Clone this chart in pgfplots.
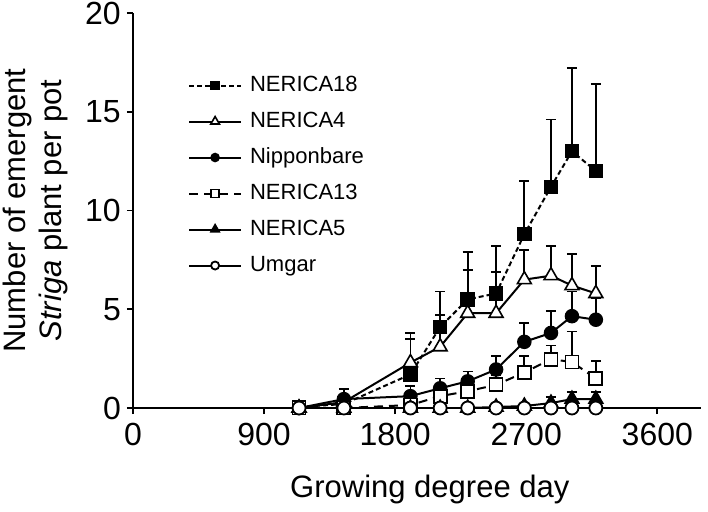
\documentclass[border=0pt]{standalone}
\usepackage{fontspec}
\setmainfont{Liberation Sans}
\usepackage{pgfplots}
\usepackage{pgfplotstable}
\pgfplotsset{compat=1.18}
\usetikzlibrary{calc}

\pgfplotstableread{
x y e
1140 0.05 0
1448 0.2 0.3
1905 1.7 2.1
2109 4.1 1.8
2298 5.5 2.4
2493 5.8 2.4
2687 8.8 2.7
2870 11.2 3.4
3014 13.0 4.2
3178 12.0 4.4
}\neighteen

\pgfplotstableread{
x y e
1140 0 0
1448 0.3 0.3
1905 2.3 1.2
2109 3.1 1.6
2298 4.8 2.2
2493 4.8 2.1
2687 6.5 1.5
2870 6.7 1.5
3014 6.2 1.6
3178 5.8 1.4
}\nfour

\pgfplotstableread{
x y e
1140 0 0
1448 0.45 0.5
1905 0.6 0.5
2109 1.0 0.5
2298 1.35 0.5
2493 1.95 0.7
2687 3.35 0.95
2870 3.8 1.1
3014 4.65 1.25
3178 4.47 1.1
}\nippon

\pgfplotstableread{
x y e
1140 0 0
1448 0 0
1905 0.15 0.2
2109 0.6 0.3
2298 0.85 0.4
2493 1.17 0.5
2687 1.8 0.85
2870 2.47 0.7
3014 2.33 1.55
3178 1.49 0.9
}\nthirteen

\pgfplotstableread{
x y e
1140 0 0
1448 0 0
1905 0 0
2109 0 0
2298 0 0
2493 0.05 0.05
2687 0.1 0.1
2870 0.25 0.3
3014 0.45 0.35
3178 0.45 0.35
}\nfive

\pgfplotstableread{
x y e
1140 0 0
1448 0 0
1905 0 0
2109 0 0
2298 0 0
2493 0 0
2687 0 0
2870 0 0
3014 0 0
3178 0 0
}\umgar

\begin{document}
\begin{tikzpicture}
\begin{axis}[
  name=ax,
  scale only axis,
  width=568pt, height=395pt,
  xmin=0, xmax=3900, ymin=0, ymax=20,
  axis lines*=left,
  axis line style={line width=1.9pt},
  xtick={0,900,1800,2700,3600},
  ytick={0,5,10,15,20},
  tick align=outside,
  major tick length=6pt,
  tick style={line width=1.9pt, black},
  /pgf/number format/assume math mode=true,
  /pgf/number format/set thousands separator={},
  ticklabel style={font=\fontsize{32}{38}\selectfont},
  xticklabel style={inner sep=0pt, anchor=north, yshift=-9pt},
  yticklabel style={inner sep=0pt, anchor=east, xshift=-6pt},
  ylabel={Number of emergent\\\textit{Striga} plant per pot},
  every axis y label/.style={at={(axis description cs:-0.171,0.5)}, rotate=90, anchor=center, align=center, font=\fontsize{31}{36}\selectfont},
  xlabel={Growing degree day},
  every axis x label/.style={at={(axis cs:2038,0)}, anchor=base, yshift=-89pt, font=\fontsize{31}{36}\selectfont},
  every axis plot/.append style={line width=2pt, black},
  error bars/y dir=plus,
  error bars/y explicit,
  error bars/error bar style={line width=1.7pt, solid, black},
  error bars/error mark options={rotate=90, mark size=5pt, line width=1.7pt, solid, black},
  legend image code/.code={%
    \draw[#1, mark=none] (-26pt,0pt) -- (26pt,0pt);
    \draw[#1, every mark/.append style={scale=0.62}] plot coordinates {(0pt,0pt)};
  },
  legend style={draw=none, fill=none, at={(axis cs:377,16.87)}, anchor=north west,
    inner sep=0pt, row sep=15pt,
    font=\fontsize{22}{26}\selectfont,
    nodes={inner sep=0pt, text height=16pt, text depth=5pt},
    /tikz/every odd column/.append style={column sep=8pt}},
  legend cell align=left,
]
\addplot[dash pattern=on 5pt off 3pt, mark=square*, mark size=6.5pt, mark options={solid, fill=black, line width=1.5pt}]
  table[x=x, y=y, y error=e] {\neighteen};
\addlegendentry{NERICA18}
\addplot[solid, mark=triangle*, mark size=8pt, mark options={solid, fill=white, line width=1.6pt}]
  table[x=x, y=y, y error=e] {\nfour};
\addlegendentry{NERICA4}
\addplot[solid, mark=*, mark size=6.5pt, mark options={solid, fill=black, line width=1.5pt}]
  table[x=x, y=y, y error=e] {\nippon};
\addlegendentry{Nipponbare}
\addplot[dash pattern=on 9pt off 6pt, mark=square*, mark size=6.5pt, mark options={solid, fill=white, line width=1.8pt}]
  table[x=x, y=y, y error=e] {\nthirteen};
\addlegendentry{NERICA13}
\addplot[solid, mark=triangle*, mark size=8pt, mark options={solid, fill=black, line width=1.5pt}]
  table[x=x, y=y, y error=e] {\nfive};
\addlegendentry{NERICA5}
\addplot[solid, mark=*, mark size=6.5pt, mark options={solid, fill=white, line width=1.8pt}]
  table[x=x, y=y, y error=e] {\umgar};
\addlegendentry{Umgar}
\end{axis}
\pgfresetboundingbox
\path ($(ax.south west)+(-133pt,-103pt)$) rectangle ($(ax.north east)+(7pt,13pt)$);
\end{tikzpicture}
\end{document}
